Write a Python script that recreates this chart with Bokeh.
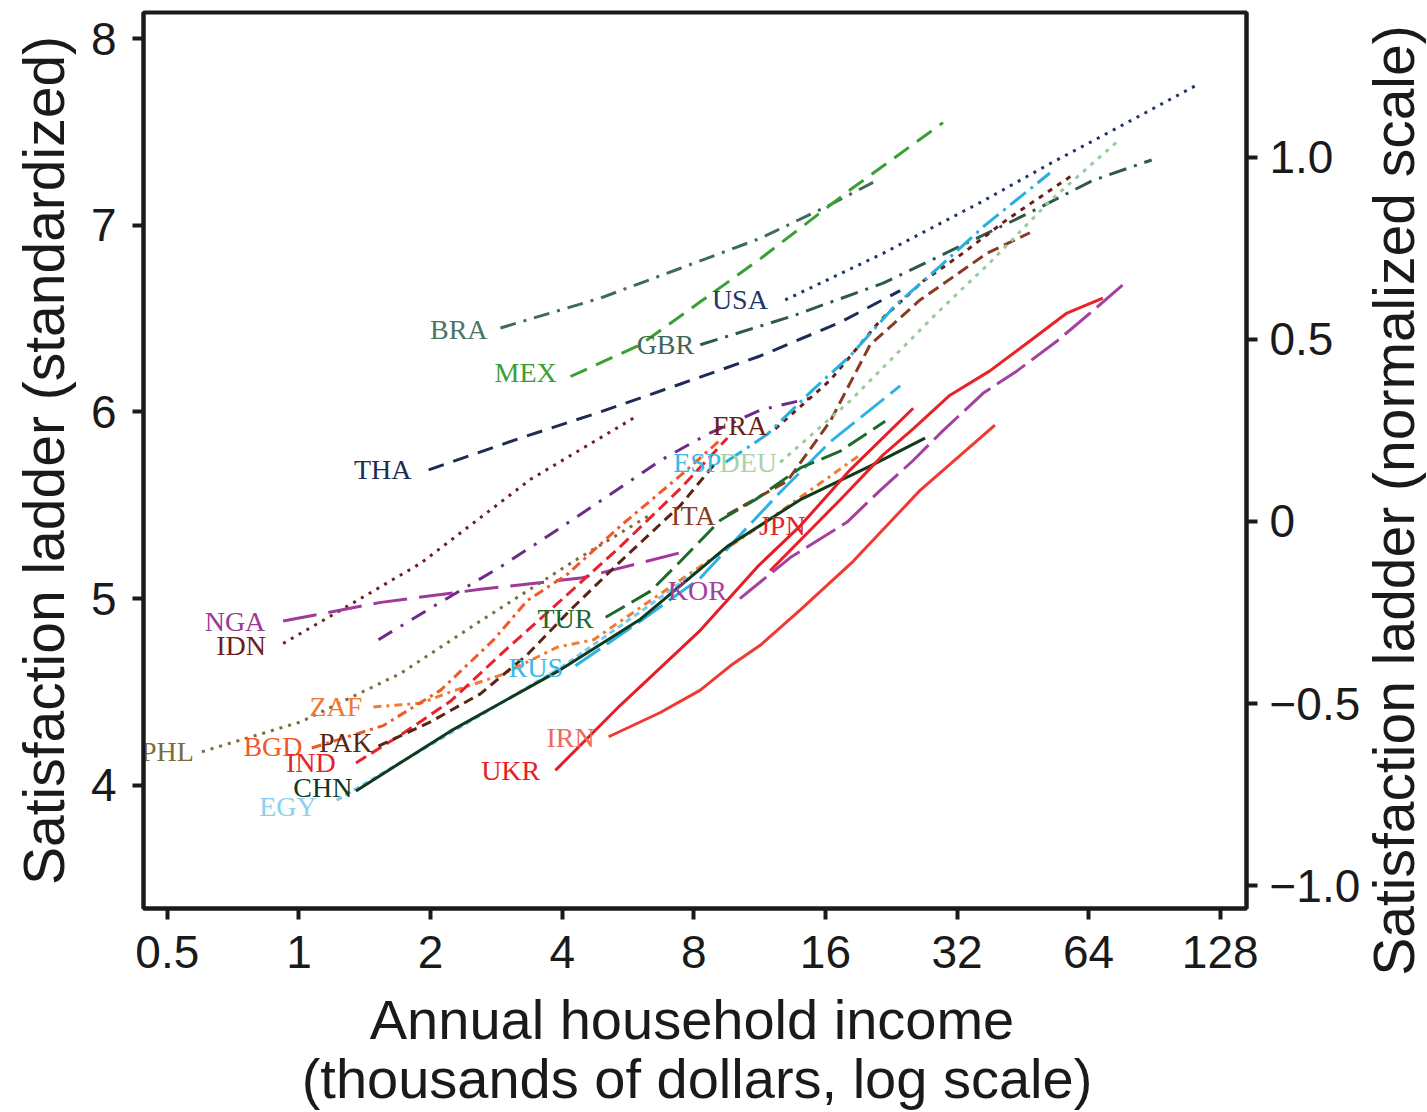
from bokeh.plotting import figure
from bokeh.models import Range1d, LinearAxis, FixedTicker, ColumnDataSource
from bokeh.layouts import row, column
from bokeh.core.properties import value
from bokeh.embed import file_html
from bokeh.resources import INLINE

# ---------------- data (income in thousands of dollars, ladder standardized) ----------------
BRA_inc = [2.89, 4.89, 7.46, 11.35, 16.41, 21.35]
BRA_sat = [6.45, 6.61, 6.77, 6.93, 7.11, 7.25]
MEX_inc = [4.18, 6.04, 8.28, 11.35, 18.23, 29.73]
MEX_sat = [6.19, 6.36, 6.59, 6.82, 7.19, 7.55]
USA_inc = [12.95, 21.69, 36.7, 52.2, 74.2, 114.9]
USA_sat = [6.60, 6.85, 7.13, 7.33, 7.52, 7.76]
GBR_inc = [8.28, 13.30, 21.69, 32.0, 46.2, 65.4, 89.2]
GBR_sat = [6.36, 6.51, 6.69, 6.88, 7.06, 7.24, 7.35]
THA_inc = [1.98, 3.21, 4.89, 7.46, 11.35, 17.30, 23.72]
THA_sat = [5.69, 5.86, 6.00, 6.15, 6.30, 6.48, 6.65]
IDN_inc = [0.92, 1.25, 1.90, 3.39, 5.95]
IDN_sat = [4.76, 4.94, 5.19, 5.64, 5.98]
NGA_inc = [0.92, 1.54, 2.60, 4.41, 7.86]
NGA_sat = [4.88, 4.98, 5.05, 5.11, 5.26]
XXX_inc = [1.52, 1.97, 2.89, 3.97, 5.64, 6.71, 8.59, 11.35, 15.17]
XXX_sat = [4.78, 4.94, 5.17, 5.38, 5.62, 5.74, 5.88, 6.01, 6.08]
PHL_inc = [0.60, 1.01, 1.71, 2.60, 4.25, 6.37]
PHL_sat = [4.18, 4.34, 4.60, 4.88, 5.20, 5.45]
ZAF_inc = [1.48, 1.90, 2.22, 2.89, 3.90, 4.72, 7.46, 11.35, 19.21]
ZAF_sat = [4.42, 4.44, 4.50, 4.59, 4.74, 4.78, 5.10, 5.39, 5.77]
BGD_inc = [1.07, 1.56, 2.11, 2.79, 3.33, 4.11, 5.44, 7.46, 9.20]
BGD_sat = [4.20, 4.32, 4.51, 4.78, 4.99, 5.13, 5.39, 5.66, 5.85]
IND_inc = [1.35, 1.71, 2.22, 2.89, 3.97, 5.44, 7.46, 9.55]
IND_sat = [4.12, 4.27, 4.45, 4.70, 4.99, 5.28, 5.59, 5.86]
PAK_inc = [1.52, 2.0, 2.60, 3.33, 4.18, 5.44, 7.46, 9.06]
PAK_sat = [4.21, 4.34, 4.49, 4.70, 4.94, 5.20, 5.50, 5.74]
ITA_inc = [9.55, 13.09, 16.41, 20.25, 26.34, 37.47, 46.98]
ITA_sat = [5.45, 5.63, 5.95, 6.36, 6.60, 6.85, 6.96]
FRA_inc = [12.29, 16.41, 21.35, 26.76, 33.0, 41.6, 58.9]
FRA_sat = [5.91, 6.17, 6.49, 6.70, 6.85, 7.03, 7.27]
ESP_inc = [9.45, 11.78, 15.0, 18.23, 23.1, 29.26, 37.07, 52.2]
ESP_sat = [5.73, 5.88, 6.12, 6.30, 6.57, 6.78, 7.00, 7.28]
DEU_inc = [12.61, 18.23, 28.8, 38.05, 52.2, 75.4]
DEU_sat = [5.73, 6.06, 6.53, 6.80, 7.13, 7.46]
RUS_inc = [4.29, 6.04, 8.28, 10.2, 12.61, 16.41, 23.72]
RUS_sat = [4.64, 4.88, 5.11, 5.34, 5.57, 5.84, 6.14]
EGY_inc = [1.22, 2.22, 3.97, 6.04, 8.28]
EGY_sat = [3.92, 4.28, 4.63, 4.93, 5.16]
CHN_inc = [1.35, 2.22, 3.97, 6.04, 9.55, 14.02, 20.25, 27.04]
CHN_sat = [3.97, 4.29, 4.62, 4.89, 5.28, 5.53, 5.71, 5.86]
TUR_inc = [5.03, 6.37, 7.46, 9.20, 11.06, 14.02, 17.30, 21.92]
TUR_sat = [4.90, 5.04, 5.20, 5.42, 5.53, 5.70, 5.79, 5.95]
JPN_inc = [11.97, 17.30, 21.69, 25.4, 30.84, 38.05, 46.98, 57.1, 69.0]
JPN_sat = [5.15, 5.53, 5.77, 5.91, 6.09, 6.22, 6.38, 6.53, 6.61]
UKR_inc = [3.86, 5.44, 8.28, 11.18, 14.02, 18.23, 25.4]
UKR_sat = [4.08, 4.43, 4.83, 5.17, 5.39, 5.69, 6.02]
IRN_inc = [5.11, 6.71, 8.28, 9.70, 11.35, 14.02, 18.52, 26.34, 39.07]
IRN_sat = [4.26, 4.39, 4.51, 4.64, 4.75, 4.94, 5.20, 5.58, 5.93]
KOR_inc = [10.2, 13.30, 17.94, 21.35, 25.4, 29.73, 36.7, 43.9, 54.2, 66.8, 78.3]
KOR_sat = [5.00, 5.22, 5.41, 5.58, 5.74, 5.90, 6.10, 6.22, 6.38, 6.56, 6.70]

x_ticks = [0.5, 1, 2, 4, 8, 16, 32, 64, 128]
x_tick_labels = ["0.5", "1", "2", "4", "8", "16", "32", "64", "128"]
y_ticks = [4, 5, 6, 7, 8]
norm_ticks = [-1.0, -0.5, 0.0, 0.5, 1.0]
norm_tick_labels = ["\u22121.0", "\u22120.5", "0", "0.5", "1.0"]

x_title_lines = ["Annual household income", "(thousands of dollars, log scale)"]
y_title = "Satisfaction ladder (standardized)"
y2_title = "Satisfaction ladder (normalized scale)"

# ---------------- styles: (code, x, y, color, dash, label position) ----------------
series = [
    ("BRA", BRA_inc, BRA_sat, "#3d6b5c", "16 8 3 8", (2.32, 6.44)),
    ("MEX", MEX_inc, MEX_sat, "#3aa033", "18 10", (3.30, 6.21)),
    ("USA", USA_inc, USA_sat, "#1f3567", "3 6", (10.2, 6.60)),
    ("GBR", GBR_inc, GBR_sat, "#2f5a4a", "18 8 3 8", (6.89, 6.36)),
    ("THA", THA_inc, THA_sat, "#1c2c55", "16 10", (1.555, 5.69)),
    ("IDN", IDN_inc, IDN_sat, "#6a2020", "3 6", (0.737, 4.75)),
    ("NGA", NGA_inc, NGA_sat, "#a0399a", "34 12", (0.714, 4.88)),
    ("", XXX_inc, XXX_sat, "#6e2a8a", "16 10 3 10", None),
    ("PHL", PHL_inc, PHL_sat, "#7d6c3a", "3 6", (0.50, 4.18)),
    ("ZAF", ZAF_inc, ZAF_sat, "#f07a30", "8 5 3 5", (1.215, 4.42)),
    ("BGD", BGD_inc, BGD_sat, "#f05a28", "10 5 3 5", (0.872, 4.21)),
    ("IND", IND_inc, IND_sat, "#e8222a", "12 6", (1.065, 4.12)),
    ("PAK", PAK_inc, PAK_sat, "#5a2414", "10 6", (1.28, 4.23)),
    ("ITA", ITA_inc, ITA_sat, "#8b3a22", "12 6", (7.98, 5.445)),
    ("FRA", FRA_inc, FRA_sat, "#6b1e16", "5 6", (10.2, 5.93)),
    ("ESP", ESP_inc, ESP_sat, "#26b0e0", "20 6 3 6", (8.15, 5.73)),
    ("DEU", DEU_inc, DEU_sat, "#98cc98", "4 6", (10.66, 5.73)),
    ("RUS", RUS_inc, RUS_sat, "#2eb2e4", "30 8", (3.48, 4.63)),
    ("EGY", EGY_inc, EGY_sat, "#7cc8ee", "6 4", (0.944, 3.886)),
    ("CHN", CHN_inc, CHN_sat, "#0f3a1e", None, (1.134, 3.99)),
    ("TUR", TUR_inc, TUR_sat, "#1c6a2c", "22 8", (4.07, 4.893)),
    ("JPN", JPN_inc, JPN_sat, "#e82328", None, (12.75, 5.39)),
    ("UKR", UKR_inc, UKR_sat, "#e31e26", None, (3.05, 4.08)),
    ("IRN", IRN_inc, IRN_sat, "#ef3a34", None, (4.18, 4.256)),
    ("KOR", KOR_inc, KOR_sat, "#a4409e", "34 8", (8.15, 5.043)),
]
label_colors = {"IRN": "#ee6a60", "ESP": "#3ab8e6", "RUS": "#3ab8e6", "EGY": "#8ccff0",
                "DEU": "#a8d4a8", "BRA": "#4a7566", "GBR": "#3f6658"}

INK = "#1a1a1a"
SANS = "Liberation Sans"

# ---------------- main plot ----------------
p = figure(width=1363, height=986, x_axis_type="log",
           x_range=Range1d(0.441, 147), y_range=Range1d(3.34, 8.14),
           output_backend="svg", toolbar_location=None,
           min_border_left=143, min_border_right=116, min_border_top=12, min_border_bottom=78)
p.background_fill_color = "white"
p.border_fill_color = "white"
p.outline_line_color = INK
p.outline_line_width = 4
p.grid.visible = False

for code, xs, ys, col, dash, lab in series:
    kw = dict(line_color=col, line_width=3)
    if dash:
        kw["line_dash"] = dash
    p.line(xs, ys, **kw)

lx, ly, lt, lc = [], [], [], []
for code, xs, ys, col, dash, lab in series:
    if lab is None:
        continue
    lx.append(lab[0]); ly.append(lab[1]); lt.append(code)
    lc.append(label_colors.get(code, col))
src = ColumnDataSource(dict(x=lx, y=ly, text=lt, color=lc))
p.text(x="x", y="y", text="text", text_color="color", source=src,
       text_font=value("Liberation Serif"), text_font_size="28px",
       text_align="center", text_baseline="middle")

p.extra_y_ranges = {"norm": Range1d(-1.063, 1.398)}
right = LinearAxis(y_range_name="norm")
p.add_layout(right, "right")

p.xaxis.ticker = FixedTicker(ticks=x_ticks)
p.xaxis.major_label_overrides = {t: s for t, s in zip(x_ticks, x_tick_labels)}
p.yaxis[0].ticker = FixedTicker(ticks=y_ticks)
right.ticker = FixedTicker(ticks=norm_ticks)
right.major_label_overrides = {t: s for t, s in zip(norm_ticks, norm_tick_labels)}
p.yaxis[0].axis_label = y_title

for ax in [p.xaxis[0], p.yaxis[0], right]:
    ax.axis_line_color = INK
    ax.axis_line_width = 4
    ax.major_tick_line_color = INK
    ax.major_tick_line_width = 4
    ax.major_tick_out = 11
    ax.major_tick_in = 0
    ax.minor_tick_line_color = None
    ax.major_label_text_font = SANS
    ax.major_label_text_font_size = "46px"
    ax.major_label_text_color = INK
    ax.axis_label_text_font = SANS
    ax.axis_label_text_font_size = "57px"
    ax.axis_label_text_font_style = "normal"
    ax.axis_label_text_color = INK
    ax.major_label_standoff = 12
p.xaxis[0].major_label_standoff = 16
p.yaxis[0].major_label_standoff = 16
p.yaxis[0].axis_label_standoff = 12

# ---------------- bottom title strip (canvas-pixel coordinates) ----------------
r = figure(width=1363, height=126, x_range=Range1d(143, 1247), y_range=Range1d(1112, 986),
           output_backend="svg", toolbar_location=None,
           x_axis_location=None, y_axis_location=None,
           min_border_left=143, min_border_right=116, min_border_top=0, min_border_bottom=0)
r.grid.visible = False
r.outline_line_color = None
r.text(x=[692, 697], y=[1019, 1078], text=x_title_lines,
       text_align="center", text_baseline="middle",
       text_font=value(SANS), text_font_size="56px", text_color=INK)

# ---------------- right-hand title strip (reads bottom-to-top) ----------------
q = figure(width=64, height=1112, x_range=Range1d(1363, 1427), y_range=Range1d(1112, 0),
           output_backend="svg", toolbar_location=None,
           x_axis_location=None, y_axis_location=None,
           min_border_left=0, min_border_right=0, min_border_top=0, min_border_bottom=0)
q.grid.visible = False
q.outline_line_color = None
q.text(x=[1393], y=[500], text=[y2_title], angle=90, angle_units="deg",
       text_align="center", text_baseline="middle",
       text_font=value(SANS), text_font_size="57px", text_color=INK)

layout = row(column(p, r, spacing=0), q, spacing=0)
open("out.html", "w").write(file_html(layout, INLINE))
